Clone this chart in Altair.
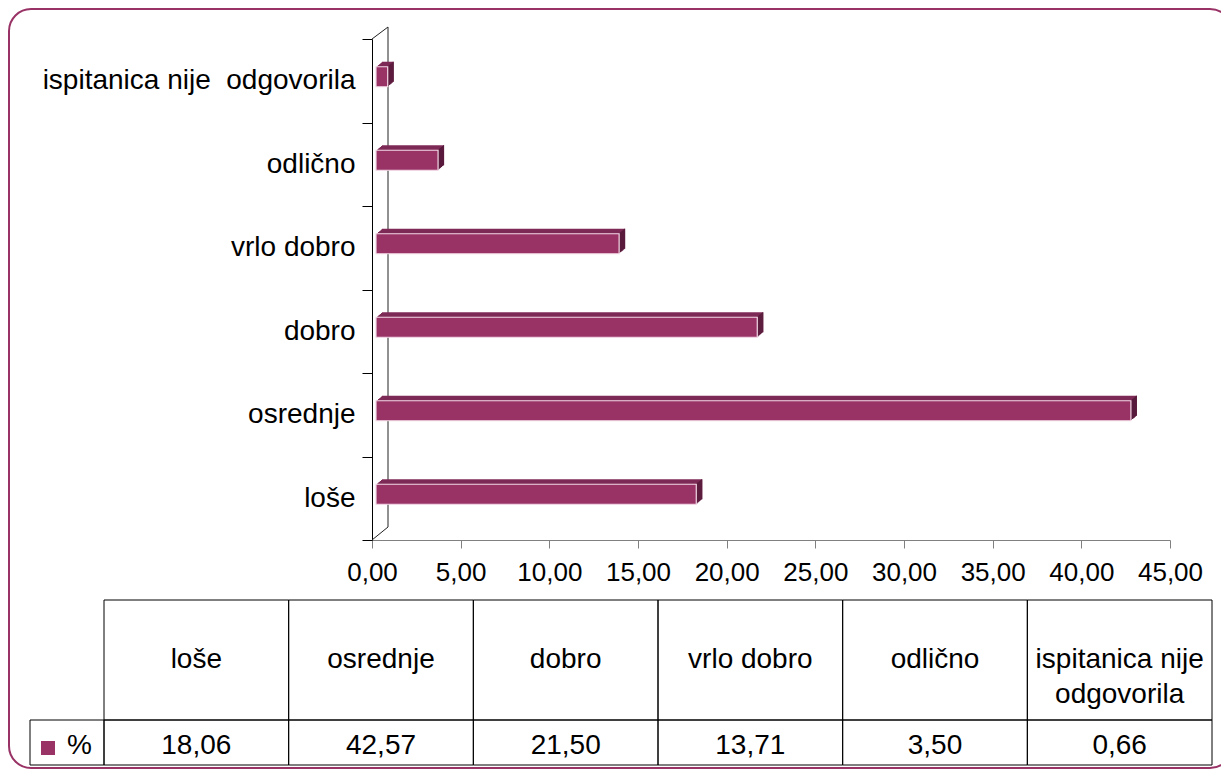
import altair as alt
import pandas as pd

# ---- data ----
categories = ["loše", "osrednje", "dobro", "vrlo dobro", "odlično", "ispitanica nije \u00a0odgovorila"]
headers = ["loše", "osrednje", "dobro", "vrlo dobro", "odlično", "ispitanica nije\nodgovorila"]
values = [18.06, 42.57, 21.50, 13.71, 3.50, 0.66]
x_ticks = [0, 5, 10, 15, 20, 25, 30, 35, 40, 45]
series_name = "%"

# ---- style / layout ----
W, H = 1213, 762
FONT = "Liberation Sans"
FRONT = "#993366"
TOP = "#7e2a56"
SIDE = "#561a3a"

df = pd.DataFrame({"cat": categories, "header": headers, "value": values})
base = alt.Chart(df)
one = alt.Chart(alt.Data(values=[{"a": 1}]))

fmt = "replace(format(datum.value, '.2f'), '.', ',')"
y_order = categories[::-1]

x_scale = alt.Scale(domain=[0, 45], range=[364, 1162], nice=False, zero=True)
y_axis_scale = alt.Scale(domain=y_order, range=[31, 532], paddingInner=0, paddingOuter=0)
y_bar_scale = alt.Scale(domain=y_order, range=[31, 532], paddingInner=0.76, paddingOuter=0.38)
col_scale = alt.Scale(domain=categories, range=[96, 1204], paddingInner=0, paddingOuter=0)

layers = []

# frame (right side runs off the visible area, as in the original)
layers.append(one.mark_rect(filled=False, stroke=FRONT, strokeWidth=2, cornerRadius=22).encode(
    x=alt.value(1), x2=alt.value(1224), y=alt.value(1), y2=alt.value(H - 2)))

# back wall lines
layers.append(one.mark_rule(color="#222222", strokeWidth=1).encode(
    x=alt.value(380), y=alt.value(19), y2=alt.value(519)))
layers.append(one.mark_rule(color="#222222", strokeWidth=1).encode(
    x=alt.value(364), y=alt.value(532), x2=alt.value(380), y2=alt.value(519)))
layers.append(one.mark_rule(color="#222222", strokeWidth=1).encode(
    x=alt.value(364), y=alt.value(31), x2=alt.value(380), y2=alt.value(19)))

# axes layer (invisible points)
layers.append(base.mark_point(opacity=0).encode(
    x=alt.X("value:Q", scale=x_scale, axis=alt.Axis(
        orient="bottom", offset=532 - H, values=x_ticks, labelExpr=fmt, tickSize=8,
        labelPadding=11, labelFont=FONT, labelFontSize=26, labelColor="black",
        domainColor="#808080", tickColor="#808080", title=None, grid=False,
        labelFlush=False, labelOverlap=False)),
    y=alt.Y("cat:N", scale=y_axis_scale, axis=alt.Axis(
        orient="left", offset=-364, tickSize=10, tickBand="extent", labelPadding=7,
        labelFont=FONT, labelFontSize=28, labelColor="black", labelLimit=500,
        domainColor="black", tickColor="black", title=None, grid=False))))

# 3D extrusion: top face copies
for k in range(6, 0, -1):
    dx = 4 + k
    dy = -4 - k * 5 / 6
    layers.append(base.mark_bar(color=TOP, xOffset=dx, x2Offset=dx, yOffset=dy, y2Offset=dy).encode(
        x=alt.X("value:Q", scale=x_scale, axis=None),
        y=alt.Y("cat:N", scale=y_bar_scale, axis=None)))
# right face staircase
for k in range(6, 0, -1):
    dy = -4 - k * 5 / 6
    layers.append(base.mark_rect(color=SIDE, xOffset=3 + k, x2Offset=4 + k, yOffset=dy, y2Offset=dy).encode(
        x=alt.X("value:Q", scale=x_scale, axis=None),
        x2="value:Q",
        y=alt.Y("cat:N", scale=y_bar_scale, axis=None)))
# front face
layers.append(base.mark_bar(color=FRONT, stroke="#f3d9e6", strokeWidth=1.2,
                            xOffset=4, x2Offset=4, yOffset=-4, y2Offset=-4).encode(
    x=alt.X("value:Q", scale=x_scale, axis=None),
    y=alt.Y("cat:N", scale=y_bar_scale, axis=None)))

# data table
layers.append(base.mark_rect(filled=False, stroke="black", strokeWidth=1).encode(
    x=alt.X("cat:N", scale=col_scale, axis=None), y=alt.value(592), y2=alt.value(712)))
layers.append(base.mark_rect(filled=False, stroke="black", strokeWidth=1).encode(
    x=alt.X("cat:N", scale=col_scale, axis=None), y=alt.value(712), y2=alt.value(757)))
layers.append(one.mark_rect(filled=False, stroke="black", strokeWidth=1).encode(
    x=alt.value(22), x2=alt.value(96), y=alt.value(712), y2=alt.value(757)))
layers.append(base.mark_text(font=FONT, fontSize=28, lineBreak="\n", lineHeight=35,
                             baseline="middle", align="center", color="black").encode(
    x=alt.X("cat:N", scale=col_scale, axis=None), y=alt.value(652), text="header:N"))
layers.append(base.transform_calculate(label=fmt).mark_text(
    font=FONT, fontSize=28, baseline="middle", align="center", color="black").encode(
    x=alt.X("cat:N", scale=col_scale, axis=None), y=alt.value(738), text="label:N"))
layers.append(one.mark_rect(color=FRONT).encode(
    x=alt.value(33), x2=alt.value(47), y=alt.value(733), y2=alt.value(747)))
layers.append(one.mark_text(text=series_name, font=FONT, fontSize=28, baseline="middle",
                            align="left", color="black").encode(
    x=alt.value(59), y=alt.value(738)))

chart = alt.layer(*layers).resolve_scale(x="independent", y="independent").properties(
    width=W, height=H, autosize=alt.AutoSizeParams(type="none"), padding=0,
    background="white"
).configure_view(strokeWidth=0)

chart.save("out.html", embed_options={"renderer": "svg", "actions": False})
